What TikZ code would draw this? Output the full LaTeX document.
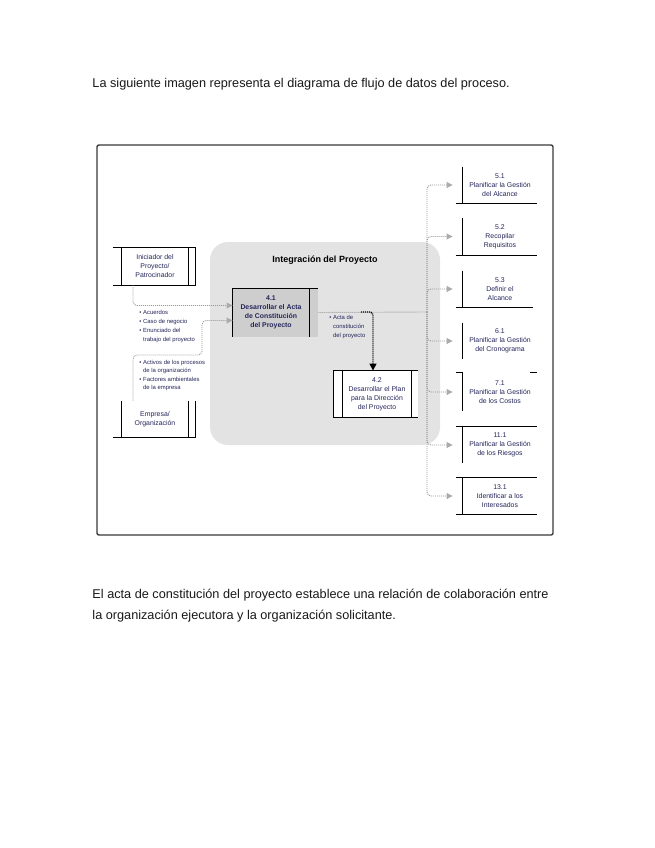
\documentclass[tikz,border=0pt]{standalone}
\usepackage{fontspec}
\setmainfont{Liberation Sans}
\usepackage{xcolor}
\usepackage{tikz}
\usetikzlibrary{arrows.meta}

\definecolor{framegray}{HTML}{3A3A3A}
\definecolor{intgray}{HTML}{E3E3E3}
\definecolor{boxgray}{HTML}{CECECE}
\definecolor{flowgray}{HTML}{9A9A9A}
\definecolor{tipgray}{HTML}{ABABAB}
\definecolor{dfdtext}{HTML}{25255C}

\tikzset{
  bodytxt/.style={font=\fontsize{12.7}{15}\selectfont, text=black!90, inner sep=0pt, anchor=base west},
  boxtxt/.style={font=\fontsize{6.9}{9}\selectfont, text=dfdtext, align=center, inner sep=0pt},
  listtxt/.style={font=\fontsize{5.9}{9}\selectfont, text=dfdtext, align=left, inner sep=0pt, anchor=west},
  flow/.style={draw=flowgray, line width=0.9pt, dash pattern=on 1pt off 1pt, rounded corners=4pt,
    -{Triangle[length=6pt, width=6pt, fill=tipgray, color=tipgray]}},
  flowline/.style={draw=flowgray, line width=0.9pt, dash pattern=on 1pt off 1pt},
  actaflow/.style={draw=black, line width=1.4pt, dash pattern=on 1pt off 1pt, rounded corners=3pt,
    -{Triangle[length=7pt, width=7pt]}}
}

\begin{document}
\begin{tikzpicture}[x=1pt, y=-1pt, line width=0.9pt]
\useasboundingbox[fill=white] (0,0) rectangle (655,848);

\node[bodytxt] (intro) at (92,88) {La siguiente imagen representa el diagrama de flujo de datos del proceso.};

\draw[framegray, line width=1.4pt, rounded corners=2pt] (97,145) rectangle (553,535);

\node[fill=intgray, rounded corners=18pt, minimum width=230pt, minimum height=203pt, inner sep=0pt] (integ) at (325,343.5) {};
\node[font=\bfseries\fontsize{9}{11}\selectfont, inner sep=0pt] (integtitle) at (325,260) {Integración del Proyecto};

% proceso 4.1
\node[boxtxt, font=\bfseries\fontsize{6.9}{9}\selectfont, fill=boxgray, minimum width=76pt, minimum height=48pt] (p41) at (271,312.5) {4.1\\Desarrollar el Acta\\de Constitución\\del Proyecto};
\fill[boxgray] (p41.north east) rectangle ([xshift=9pt]p41.south east);
\draw (p41.south west) -- (p41.north west) -- ([xshift=9pt]p41.north east);
\draw (p41.north east) -- (p41.south east);

% proceso 4.2
\node[boxtxt, fill=white, minimum width=68pt, minimum height=46pt] (p42) at (377,394) {4.2\\Desarrollar el Plan\\para la Dirección\\del Proyecto};
\fill[white] ([xshift=-9pt]p42.north west) rectangle (p42.south west);
\fill[white] (p42.north east) rectangle ([xshift=7pt]p42.south east);
\draw ([xshift=7pt]p42.north east) -- ([xshift=-9pt]p42.north west) -- ([xshift=-9pt]p42.south west) -- ([xshift=7pt]p42.south east);
\draw (p42.north west) -- (p42.south west);
\draw (p42.north east) -- (p42.south east);

% entradas
\node[boxtxt, minimum width=66pt, minimum height=37pt] (ini) at (155,266.5) {Iniciador del\\Proyecto/\\Patrocinador};
\draw ([xshift=-9pt]ini.north west) -- ([xshift=7pt]ini.north east) -- ([xshift=7pt]ini.south east) -- ([xshift=-9pt]ini.south west);
\draw (ini.north west) -- (ini.south west);
\draw (ini.north east) -- (ini.south east);

\node[boxtxt, minimum width=66pt, minimum height=36pt] (emp) at (155,419) {Empresa/\\Organización};
\draw (emp.north west) -- (emp.south west);
\draw ([xshift=-9pt]emp.south west) -- ([xshift=7pt]emp.south east) -- ([xshift=7pt]emp.north east);
\draw (emp.north east) -- (emp.south east);

\node[listtxt] (lista1) at (139,326.5) {\textbullet\ Acuerdos\\\textbullet\ Caso de negocio\\\textbullet\ Enunciado del\\\phantom{\textbullet\ }trabajo del proyecto};
\node[listtxt, font=\fontsize{5.9}{8.5}\selectfont] (lista2) at (139,375.5) {\textbullet\ Activos de los procesos\\\phantom{\textbullet\ }de la organización\\\textbullet\ Factores ambientales\\\phantom{\textbullet\ }de la empresa};
\node[listtxt] (acta) at (329,327) {\textbullet\ Acta de\\\phantom{\textbullet\ }constitución\\\phantom{\textbullet\ }del proyecto};

% salidas
\node[boxtxt, minimum width=74pt, minimum height=36pt] (s51) at (500,185) {5.1\\Planificar la Gestión\\del Alcance};
\node[boxtxt, minimum width=74pt, minimum height=37pt] (s52) at (500,236.5) {5.2\\Recopilar\\Requisitos};
\node[boxtxt, minimum width=74pt, minimum height=36pt] (s53) at (500,289) {5.3\\Definir el\\Alcance};
\node[boxtxt, minimum width=74pt, minimum height=36pt] (s61) at (500,341) {6.1\\Planificar la Gestión\\del Cronograma};
\node[boxtxt, minimum width=74pt, minimum height=38pt] (s71) at (500,392) {7.1\\Planificar la Gestión\\de los Costos};
\node[boxtxt, minimum width=74pt, minimum height=36pt] (s111) at (500,445) {11.1\\Planificar la Gestión\\de los Riesgos};
\node[boxtxt, minimum width=74pt, minimum height=36pt] (s131) at (500,496) {13.1\\Identificar a los\\Interesados};

\draw (s51.north west) -- (s51.south west);
\draw ([xshift=-7pt]s51.south west) -- (s51.south east);
\draw (s52.north west) -- (s52.south west);
\draw ([xshift=-7pt]s52.south west) -- (s52.south east);
\draw (s53.north west) -- (s53.south west);
\draw ([xshift=-7pt]s53.south west) -- ([xshift=-4pt]s53.south east);
\draw (s61.north west) -- (s61.south west);
\draw ([xshift=-7pt]s71.north west) -- (s71.north west) -- (s71.south west);
\draw ([xshift=-7pt]s71.north east) -- (s71.north east);
\draw ([xshift=-7pt]s111.north west) -- (s111.north east);
\draw (s111.north west) -- (s111.south west);
\draw ([xshift=-7pt]s131.north west) -- (s131.north east);
\draw (s131.north west) -- (s131.south west);
\draw ([xshift=-7pt]s131.south west) -- (s131.south east);

% flujos
\coordinate (bend) at (202,355);
\draw[flow] ([xshift=-22pt]ini.south) |- ([yshift=7pt]p41.west);
\draw[flow] ([xshift=-22pt]emp.north) |- (bend) |- ([yshift=-8pt]p41.west);

\coordinate (bus) at (427,312);
\coordinate (rama) at (373,312);
\draw[flowline] ([xshift=9pt]p41.east) -- (bus);
\draw[flow] (bus) |- ([xshift=-10pt]s51.west);
\draw[flow] (bus) |- ([xshift=-10pt]s52.west);
\draw[flow] (bus) |- ([xshift=-10pt]s53.west);
\draw[flow] (bus) |- ([xshift=-10pt]s61.west);
\draw[flow] (bus) |- ([xshift=-10pt]s71.west);
\draw[flow] (bus) |- ([xshift=-10pt]s111.west);
\draw[flow] (bus) |- ([xshift=-10pt]s131.west);
\draw[actaflow] ([xshift=-12pt]rama) -| (rama |- p42.north);

\node[bodytxt] (cierre1) at (92,598) {El acta de constitución del proyecto establece una relación de colaboración entre};
\node[bodytxt] (cierre2) at (92,619) {la organización ejecutora y la organización solicitante.};
\end{tikzpicture}
\end{document}
